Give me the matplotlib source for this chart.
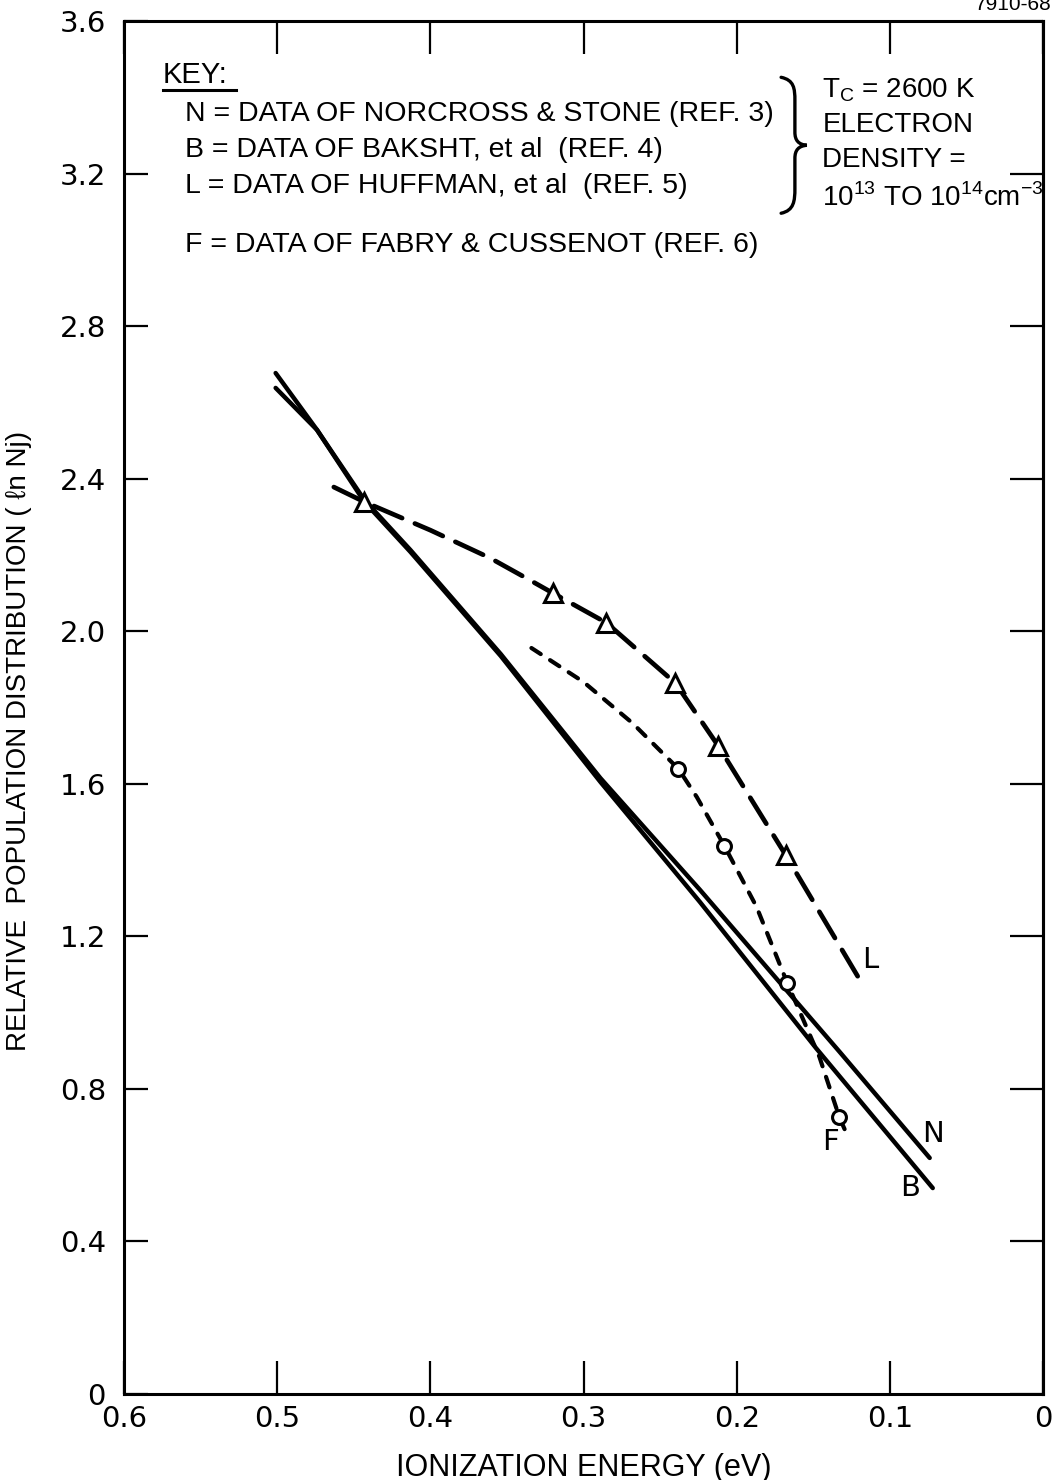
"""Relative population distribution vs ionization energy, Tc = 2600 K."""

import matplotlib

matplotlib.use("Agg")
import matplotlib.pyplot as plt  # noqa: E402
from matplotlib.path import Path  # noqa: E402
from matplotlib.patches import PathPatch  # noqa: E402

# ionization energy (eV) and ln Nj
n_energy = [0.501, 0.474, 0.443, 0.413, 0.354, 0.289, 0.224, 0.133, 0.074]
n_pop = [2.638, 2.528, 2.344, 2.213, 1.940, 1.615, 1.322, 0.898, 0.619]

b_energy = [0.501, 0.474, 0.443, 0.413, 0.354, 0.289, 0.224, 0.148, 0.072]
b_pop = [2.677, 2.528, 2.339, 2.208, 1.935, 1.605, 1.290, 0.906, 0.540]

l_energy = [0.463, 0.443, 0.400, 0.361, 0.335, 0.320, 0.285, 0.240, 0.212, 0.168, 0.118]
l_pop = [2.378, 2.339, 2.265, 2.192, 2.134, 2.100, 2.022, 1.864, 1.699, 1.413, 1.075]
l_points = [1, 5, 6, 7, 8, 9]

f_energy = [0.334, 0.300, 0.268, 0.238, 0.226, 0.208, 0.187, 0.167, 0.146, 0.133, 0.127]
f_pop = [1.956, 1.867, 1.759, 1.639, 1.565, 1.437, 1.277, 1.078, 0.884, 0.726, 0.671]
f_points = [3, 5, 7, 9]

x_ticks = [0.6, 0.5, 0.4, 0.3, 0.2, 0.1, 0]
x_labels = ["0.6", "0.5", "0.4", "0.3", "0.2", "0.1", "0"]
y_ticks = [0, 0.4, 0.8, 1.2, 1.6, 2.0, 2.4, 2.8, 3.2, 3.6]
y_labels = ["0", "0.4", "0.8", "1.2", "1.6", "2.0", "2.4", "2.8", "3.2", "3.6"]

key_lines = [
    "N = DATA OF NORCROSS & STONE (REF. 3)",
    "B = DATA OF BAKSHT, et al  (REF. 4)",
    "L = DATA OF HUFFMAN, et al  (REF. 5)",
    "F = DATA OF FABRY & CUSSENOT (REF. 6)",
]
cond_lines = [
    r"T$_\mathregular{C}$ = 2600 K",
    "ELECTRON",
    "DENSITY =",
    r"10$^\mathregular{13}$ TO 10$^\mathregular{14}$cm$^\mathregular{-3}$",
]

TEXTFONT = ["Liberation Sans", "DejaVu Sans"]
INK = "black"

plt.rcParams.update({
    "font.family": ["DejaVu Sans"],
    "lines.scale_dashes": False,
    "mathtext.fontset": "custom",
    "mathtext.rm": "Liberation Sans",
})

fig = plt.figure(figsize=(10.57, 14.8), dpi=100)
ax = fig.add_axes([0.1173, 0.0581, 0.8695, 0.9277])

solid = dict(color=INK, lw=3.2, solid_capstyle="round", solid_joinstyle="round",
             zorder=3)
ax.plot(n_energy, n_pop, **solid)
ax.plot(b_energy, b_pop, **solid)
ax.plot(l_energy, l_pop, color=INK, lw=3.4, dashes=(22, 10), dash_capstyle="round",
        marker="^", markevery=l_points, ms=13, mfc="white", mec=INK, mew=2.2, zorder=4)
ax.plot(f_energy, f_pop, color=INK, lw=3.0, dashes=(8, 8), dash_capstyle="round",
        marker="o", markevery=f_points, ms=10, mfc="white", mec=INK, mew=2.2, zorder=4)

# curve letters
lab = dict(fontsize=21, ha="center", va="center", color=INK)
ax.text(0.072, 0.682, "N", **lab)
ax.text(0.087, 0.540, "B", **lab)
ax.text(0.113, 1.138, "L", **lab)
ax.text(0.139, 0.661, "F", **lab)

ax.set_xlim(0.6, 0)
ax.set_ylim(0, 3.6)
ax.set_xticks(x_ticks, x_labels)
ax.set_yticks(y_ticks, y_labels)
ax.tick_params(axis="x", direction="in", top=True, length=24, width=1.6,
               labelsize=21, pad=8)
ax.tick_params(axis="y", direction="in", length=17, width=1.6, labelsize=21, pad=13)
for s in ax.spines.values():
    s.set_linewidth(2.2)

right = ax.secondary_yaxis("right")
right.set_yticks(y_ticks)
right.tick_params(direction="in", length=24, width=1.6, labelright=False)
right.spines["right"].set_linewidth(2.2)

ax.set_xlabel("IONIZATION ENERGY (eV)", fontsize=22, family=TEXTFONT, labelpad=14)
ax.set_ylabel("RELATIVE  POPULATION DISTRIBUTION ( \u2113n Nj)", fontsize=20,
              family=TEXTFONT)
ax.yaxis.set_label_coords(-0.1, 0.476)

# key block
ax.text(0.042, 0.961, "KEY:", transform=ax.transAxes, fontsize=21, family=TEXTFONT,
        va="center")
ax.plot([0.042, 0.122], [0.950, 0.950], transform=ax.transAxes, color=INK, lw=2.2)
for txt, yf in zip(key_lines, [0.932, 0.906, 0.880, 0.837]):
    ax.text(0.066, yf, txt, transform=ax.transAxes, fontsize=20.5, family=TEXTFONT,
            va="center")

# brace grouping N, B, L with the run conditions
brace = Path(
    [(0.715, 0.959), (0.729, 0.957), (0.730, 0.951), (0.730, 0.942),
     (0.730, 0.919),
     (0.730, 0.913), (0.734, 0.910), (0.743, 0.9095),
     (0.734, 0.909), (0.730, 0.906), (0.730, 0.900),
     (0.730, 0.878),
     (0.730, 0.869), (0.729, 0.862), (0.715, 0.860)],
    [Path.MOVETO, Path.CURVE4, Path.CURVE4, Path.CURVE4,
     Path.LINETO,
     Path.CURVE4, Path.CURVE4, Path.CURVE4,
     Path.CURVE4, Path.CURVE4, Path.CURVE4,
     Path.LINETO,
     Path.CURVE4, Path.CURVE4, Path.CURVE4],
)
ax.add_patch(PathPatch(brace, transform=ax.transAxes, fill=False, lw=2.4,
                       edgecolor=INK, capstyle="round"))
for txt, yf in zip(cond_lines, [0.950, 0.924, 0.899, 0.871]):
    ax.text(0.760, yf, txt, transform=ax.transAxes, fontsize=20, family=TEXTFONT,
            va="center")

fig.text(0.995, 0.997, "7910-68", ha="right", va="center", fontsize=15,
         family=TEXTFONT)

fig.savefig("out.png", dpi=100)
